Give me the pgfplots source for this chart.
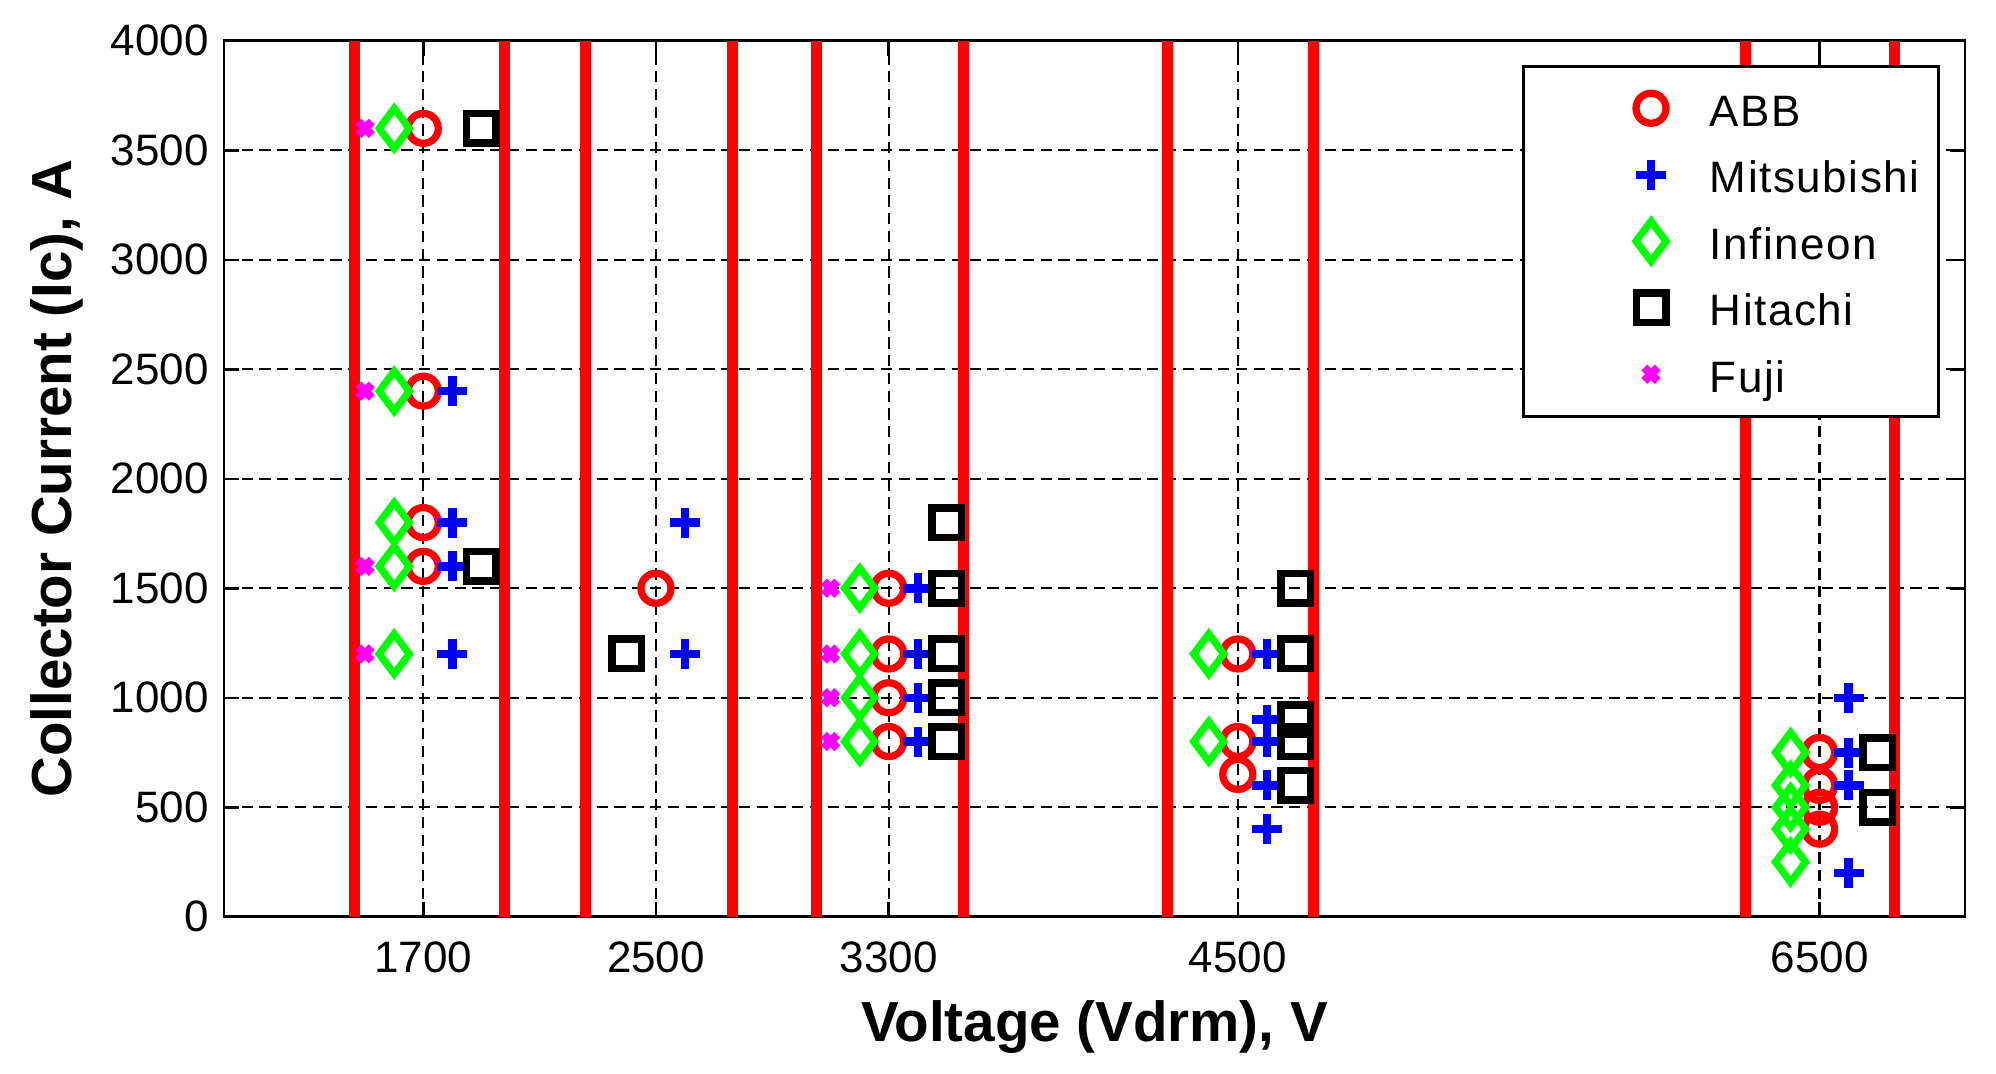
\documentclass[border=0pt]{standalone}
\usepackage{fontspec}
\setmainfont{Liberation Sans}
\newfontfamily\legfont[LetterSpace=3.5]{Liberation Sans}
\usepackage{pgfplots}
\pgfplotsset{compat=1.18}
\begin{document}
\begin{tikzpicture}
\begin{axis}[
  name=ax,
  scale only axis,
  width=696.4pt, height=350.4pt,
  xmin=1015, xmax=7000, ymin=0, ymax=4000,
  xtick={1700,2500,3300,4500,6500},
  ytick={0,500,...,4000},
  /pgf/number format/assume math mode=true,
  /pgf/number format/1000 sep={},
  tick label style={font=\fontsize{17.6}{20}\selectfont},
  xticklabel style={anchor=base, inner sep=0pt, yshift=-22.4pt},
  yticklabel style={anchor=east, inner sep=0pt, xshift=-6pt},
  tick align=inside,
  major tick length=6pt,
  tick style={black, line width=1pt},
  axis line style={black, line width=1.1pt},
  grid=major,
  major grid style={black, line width=0.9pt, dash pattern=on 4.5pt off 2.6pt},
  every axis x label/.style={at={(axis description cs:0.5,-0.1427)}, anchor=base, font=\bfseries\fontsize{22.6}{25}\selectfont},
  every axis y label/.style={at={(axis description cs:-0.08788,0.5)}, rotate=90, anchor=base, font=\bfseries\fontsize{22.6}{25}\selectfont},
  xlabel={Voltage (Vdrm), V},
  ylabel={Collector Current (Ic), A},
  legend cell align=left,
  legend style={at={(axis description cs:1,1)}, anchor=north east, xshift=-10pt, yshift=-9.7pt,
    draw=black, line width=1.1pt, fill=white, inner xsep=4.5pt, inner ysep=6pt, row sep=5.1pt,
    font=\legfont\fontsize{17.6}{20}\selectfont, nodes={inner sep=2pt},
    /tikz/every odd column/.append style={column sep=7pt},
    /tikz/every even column/.append style={text height=16pt, text depth=4pt, text width=85pt}},
  legend image code/.code={\path (0pt,0pt) (60pt,0pt); \draw[#1] plot coordinates {(46pt,0pt)};},
]
% ABB
\addplot[only marks, red, mark=o, mark size=6pt, mark options={solid, line width=2.9pt}] coordinates {
  (1700,3600) (1700,2400) (1700,1800) (1700,1600)
  (2500,1500)
  (3300,1500) (3300,1200) (3300,1000) (3300,800)
  (4500,1200) (4500,800) (4500,650)
  (6500,750) (6500,600) (6500,500) (6500,400)
};
\addlegendentry{ABB}
% Mitsubishi
\addplot[only marks, blue, mark=+, mark size=6pt, mark options={solid, line width=3.4pt}] coordinates {
  (1800,2400) (1800,1800) (1800,1600) (1800,1200)
  (2600,1800) (2600,1200)
  (3400,1500) (3400,1200) (3400,1000) (3400,800)
  (4600,1200) (4600,900) (4600,800) (4600,600) (4600,400)
  (6600,1000) (6600,750) (6600,600) (6600,200)
};
\addlegendentry{Mitsubishi}
% Infineon
\addplot[only marks, green, mark=diamond, mark size=8pt, mark options={solid, line width=2.9pt}] coordinates {
  (1600,3600) (1600,2400) (1600,1800) (1600,1600) (1600,1200)
  (3200,1500) (3200,1200) (3200,1000) (3200,800)
  (4400,1200) (4400,800)
  (6400,750) (6400,600) (6400,500) (6400,400) (6400,250)
};
\addlegendentry{Infineon}
% Hitachi
\addplot[only marks, black, mark=square, mark size=5.9pt, mark options={solid, line width=3pt}] coordinates {
  (1900,3600) (1900,1600)
  (2400,1200)
  (3500,1800) (3500,1500) (3500,1200) (3500,1000) (3500,800)
  (4700,1500) (4700,1200) (4700,900) (4700,800) (4700,600)
  (6700,750) (6700,500)
};
\addlegendentry{Hitachi}
% Fuji
\addplot[only marks, color={rgb,1:red,1;green,0;blue,1}, mark=x, mark size=3.8pt, mark options={solid, line width=3.3pt}] coordinates {
  (1500,3600) (1500,2400) (1500,1600) (1500,1200)
  (3100,1500) (3100,1200) (3100,1000) (3100,800)
};
\addlegendentry{Fuji}
% red boundary lines
\addplot[forget plot, red, line width=4.4pt] coordinates {(1462,0) (1462,4000)};
\addplot[forget plot, red, line width=4.4pt] coordinates {(1978,0) (1978,4000)};
\addplot[forget plot, red, line width=4.4pt] coordinates {(2258,0) (2258,4000)};
\addplot[forget plot, red, line width=4.4pt] coordinates {(2763,0) (2763,4000)};
\addplot[forget plot, red, line width=4.4pt] coordinates {(3053,0) (3053,4000)};
\addplot[forget plot, red, line width=4.4pt] coordinates {(3558,0) (3558,4000)};
\addplot[forget plot, red, line width=4.4pt] coordinates {(4260,0) (4260,4000)};
\addplot[forget plot, red, line width=4.4pt] coordinates {(4760,0) (4760,4000)};
\addplot[forget plot, red, line width=4.4pt] coordinates {(6245,0) (6245,4000)};
\addplot[forget plot, red, line width=4.4pt] coordinates {(6757,0) (6757,4000)};
\end{axis}
\pgfresetboundingbox
\useasboundingbox ([shift={(-89.6pt,-62.5pt)}]ax.south west) rectangle ++(798.4pt,429.2pt);
\end{tikzpicture}
\end{document}
